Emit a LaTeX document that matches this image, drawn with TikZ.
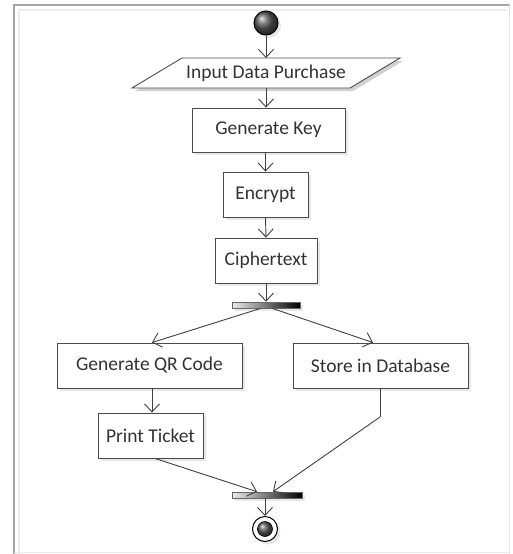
\documentclass[tikz,border=0pt]{standalone}
\usepackage{fontspec}
\setmainfont{Carlito}
\usetikzlibrary{arrows.meta,shadows,calc}
\begin{document}
\begin{tikzpicture}[x=1pt,y=-1pt,
  font=\fontsize{19.5}{23}\selectfont,
  every node/.style={text=black!80},
  actbox/.style={draw=black!70, line width=0.9pt, fill=white, inner sep=0pt,
    drop shadow={shadow xshift=3pt, shadow yshift=-3pt, opacity=0.18}},
  flow/.style={draw=black!75, line width=0.9pt, -{Straight Barb[length=8pt,width=15pt]}},
  plain/.style={draw=black!75, line width=0.9pt},
  bar/.style={draw=black!60, line width=0.6pt, left color=gray!15, right color=black, inner sep=0pt,
    drop shadow={shadow xshift=3pt, shadow yshift=-3pt, opacity=0.18}},
]
\useasboundingbox (0,0) rectangle (513,554);
% frame
\draw[gray!70, line width=1.6pt] (14,554) -- (14,5) -- (510,5);
\draw[gray!15, line width=1.2pt] (19,554) -- (19,10) -- (506,10);
\draw[gray!20, line width=1pt] (509,5) -- (509,554);
\draw[gray!15, line width=1pt] (14,552) -- (509,552);

% start node
\node[circle, minimum size=24pt, inner sep=0pt, draw=black, line width=1pt, ball color=gray!70!black,
  drop shadow={shadow xshift=3pt, shadow yshift=-3pt, opacity=0.18}] (start) at (266,23) {};

% input parallelogram
\coordinate (pTL) at (182,58);
\coordinate (pTR) at (400,58);
\coordinate (pBR) at (350,88);
\coordinate (pBL) at (132,88);
\fill[black, opacity=0.18] ($(pTL)+(3,3)$) -- ($(pTR)+(3,3)$) -- ($(pBR)+(3,3)$) -- ($(pBL)+(3,3)$) -- cycle;
\filldraw[draw=black!70, fill=white, line width=0.9pt] (pTL) -- (pTR) -- (pBR) -- (pBL) -- cycle;
\node (inp) at (266,73) {Input Data Purchase};
\coordinate (inpN) at (266,58);
\coordinate (inpS) at (266,88);

% action boxes
\node[actbox, minimum width=153pt, minimum height=44pt] (key) at (268.5,130) {Generate Key};
\node[actbox, minimum width=85pt, minimum height=45pt] (enc) at (265.5,194.5) {Encrypt};
\node[actbox, minimum width=102pt, minimum height=45pt] (ciph) at (266,260.5) {Ciphertext};
\node[bar, minimum width=68pt, minimum height=6pt] (fork) at (266,305) {};
\node[actbox, minimum width=185pt, minimum height=45pt] (qr) at (149.5,365.5) {Generate QR Code};
\node[actbox, minimum width=175pt, minimum height=45pt] (db) at (380.5,365.5) {Store in Database};
\node[actbox, minimum width=105pt, minimum height=45pt] (print) at (150.5,435.5) {Print Ticket};
\node[bar, minimum width=70pt, minimum height=6pt] (join) at (267,495) {};

% final node
\node[circle, minimum size=25pt, inner sep=0pt, draw=black, line width=1pt, fill=white,
  drop shadow={shadow xshift=3pt, shadow yshift=-3pt, opacity=0.18}] (fin) at (265,529) {};
\node[circle, minimum size=15pt, inner sep=0pt, draw=black, line width=0.6pt, ball color=gray!70!black] (finin) at (fin.center) {};

% connectors
\draw[flow] (start.south) -- (inpN);
\draw[flow] (inpS) -- (key.north -| inpS);
\draw[flow] (key.south -| enc) -- (enc.north);
\draw[flow] (enc.south) -- (ciph.north);
\draw[flow] (ciph.south) -- (fork.north -| ciph);
\draw[flow] ($(fork.south)+(-5,0)$) -- ($(qr.north)+(2.5,0)$);
\draw[flow] ($(fork.south)+(6,0)$) -- ($(db.north)+(-7.5,0)$);
\draw[flow] (qr.south -| 152,0) -- (print.north -| 152,0);
\draw[flow] ($(print.south)+(4.5,0)$) -- ($(join.north)+(-10,0)$);
\coordinate (dbbend) at (380,417);
\draw[plain] (db.south -| dbbend) -- (dbbend);
\draw[flow] (dbbend) -- ($(join.north)+(6,0)$);
\draw[flow] (join.south -| fin) -- (fin.north);
\end{tikzpicture}
\end{document}
